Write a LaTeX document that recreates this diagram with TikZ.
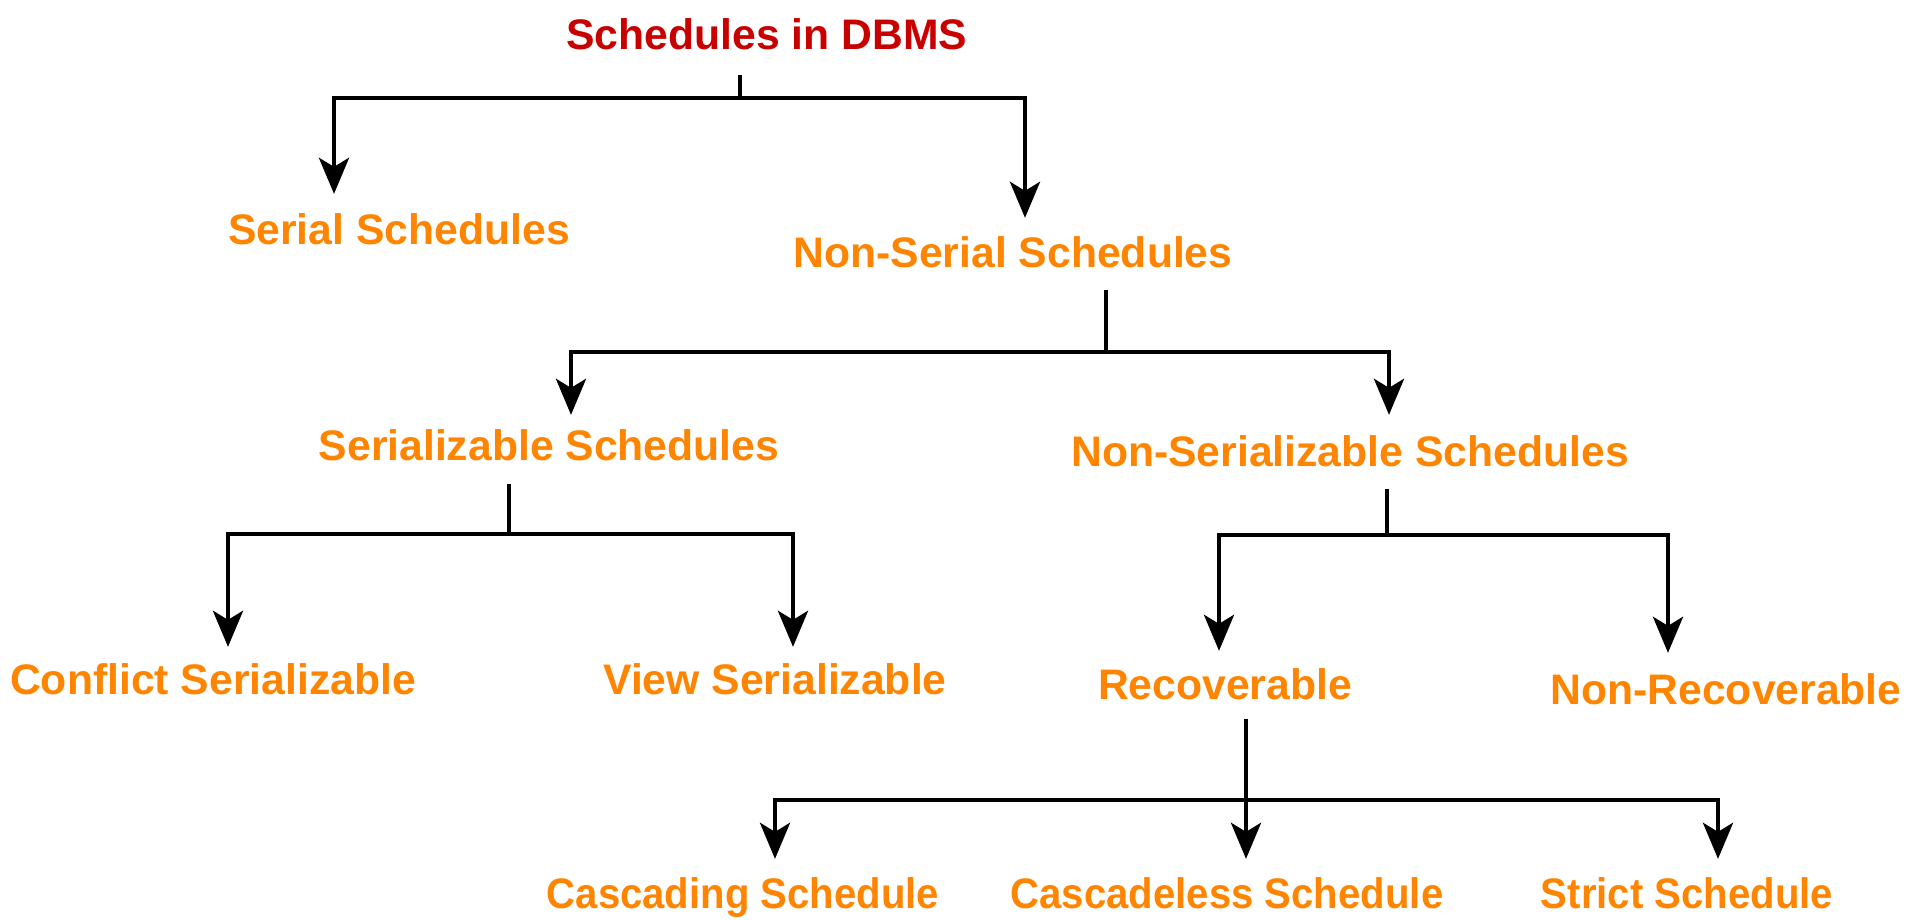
\documentclass[tikz,border=0pt]{standalone}
\usepackage{fontspec}
\setmainfont{Liberation Sans}
\newfontfamily\narrowfont[FakeStretch=0.94]{Liberation Sans}
\usetikzlibrary{arrows.meta}
\definecolor{schedorange}{RGB}{255,133,0}
\definecolor{schedred}{RGB}{200,0,0}

\begin{document}
\begin{tikzpicture}[x=1pt, y=-1pt]
   \tikzstyle{schedtext}=[anchor=base, inner sep=0pt, font=\fontsize{42.7}{50}\selectfont\bfseries, text=schedorange]
   \tikzstyle{narrowtext}=[schedtext, font=\fontsize{42.7}{50}\narrowfont\bfseries]
   \tikzstyle{link}=[draw=black, line width=4.5pt]
   \tikzstyle{arrow}=[link, -{Stealth[length=36pt, width=30pt, inset=9pt]}, shorten >=14pt]
   \useasboundingbox (0,0) rectangle (1925,920);

\node[schedtext, text=schedred] (root) at (767,50) {Schedules in DBMS};
\node[schedtext] (serial) at (399,244) {Serial Schedules};
\node[schedtext] (nonserial) at (1013,267) {Non-Serial Schedules};
\node[schedtext] (serializable) at (549,460) {Serializable Schedules};
\node[schedtext] (nonserializable) at (1350,466) {Non-Serializable Schedules};
\node[schedtext] (conflict) at (213,694) {Conflict Serializable};
\node[schedtext] (view) at (775,694) {View Serializable};
\node[schedtext] (recoverable) at (1225,699) {Recoverable};
\node[schedtext] (nonrecoverable) at (1726,704) {Non-Recoverable};
\node[narrowtext] (cascading) at (743,908) {Cascading Schedule};
\node[narrowtext] (cascadeless) at (1227,908) {Cascadeless Schedule};
\node[narrowtext] (strict) at (1687,908) {Strict Schedule};

\coordinate (rootbus) at (740,98);
\coordinate (nonserialbus) at (1106,352);
\coordinate (serializablebus) at (509,534);
\coordinate (nonserializablebus) at (1387,535);
\coordinate (recoverablebus) at (1246,800);

\draw[link] ([yshift=-24pt]root.south -| rootbus) -- (rootbus);
\draw[arrow, shorten >=19pt] (rootbus) -| ([xshift=-65pt]serial.north);
\draw[arrow, shorten >=18pt] (rootbus) -| ([xshift=12pt]nonserial.north);

\draw[link] ([yshift=-22pt]nonserial.south -| nonserialbus) -- (nonserialbus);
\draw[arrow] (nonserialbus) -| ([xshift=22pt]serializable.north);
\draw[arrow, shorten >=20pt] (nonserialbus) -| ([xshift=39pt]nonserializable.north);

\draw[link] ([yshift=-23pt]serializable.south -| serializablebus) -- (serializablebus);
\draw[arrow, shorten >=16pt] (serializablebus) -| ([xshift=15pt]conflict.north);
\draw[arrow, shorten >=16pt] (serializablebus) -| ([xshift=18pt]view.north);

\draw[link] ([yshift=-22pt]nonserializable.south -| nonserializablebus) -- (nonserializablebus);
\draw[arrow, shorten >=17pt] (nonserializablebus) -| ([xshift=-6pt]recoverable.north);
\draw[arrow, shorten >=20pt] (nonserializablebus) -| ([xshift=-58pt]nonrecoverable.north);

\draw[link] ([yshift=-19pt]recoverable.south -| recoverablebus) -- (recoverablebus);
\draw[arrow, shorten >=18pt] (recoverablebus) -| ([xshift=32pt]cascading.north);
\draw[arrow, shorten >=18pt] (recoverablebus) -| ([xshift=19pt]cascadeless.north);
\draw[arrow, shorten >=18pt] (recoverablebus) -| ([xshift=31pt]strict.north);

\end{tikzpicture}
\end{document}
